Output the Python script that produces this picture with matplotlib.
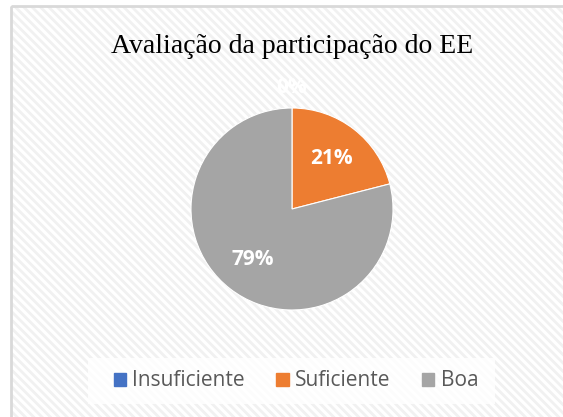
import numpy as np
import matplotlib.pyplot as plt
from matplotlib.patches import Rectangle

# Data
categories = ["Insuficiente", "Suficiente", "Boa"]
values = [0, 21, 79]
colors = ["#4472C4", "#ED7D31", "#A5A5A5"]
title = "Avaliação da participação do EE"

W, H = 563, 417
fig = plt.figure(figsize=(W / 100, H / 100), dpi=100)

# background: hatched chart area with a light border
plt.rcParams["hatch.linewidth"] = 2.0
bg = fig.add_axes([0, 0, 1, 1])
bg.set_xlim(0, W)
bg.set_ylim(H, 0)
bg.axis("off")
bg.add_patch(Rectangle((11, 6), 600, 500, facecolor="white", edgecolor="#f1f1f1",
                       lw=0, hatch="\\\\\\\\"))
bg.add_patch(Rectangle((11, 6), 600, 500, facecolor="none", edgecolor="#d9d9d9", lw=2))

bg.text(292, 46, title, ha="center", va="center", fontsize=20,
        family="Liberation Serif", color="black")

# pie
cx, cy, r = 292, 209, 101
ax = fig.add_axes([(cx - r) / W, (H - cy - r) / H, 2 * r / W, 2 * r / H])
wedges, texts, autotexts = ax.pie(values, colors=colors, startangle=90, counterclock=False,
                                  autopct="%1.0f%%", pctdistance=0.63,
                                  wedgeprops=dict(linewidth=0.8, edgecolor="white"),
                                  textprops=dict(color="white", fontsize=15,
                                                 fontweight="bold", family="Open Sans"))
ax.set_xlim(-1, 1)
ax.set_ylim(-1, 1)
ax.set_aspect("equal")
ax.axis("off")

# the 0% label sits outside the pie
w0 = wedges[0]
ang = np.deg2rad((w0.theta1 + w0.theta2) / 2)
autotexts[0].set_position((1.2 * np.cos(ang), 1.2 * np.sin(ang)))
autotexts[0].set_clip_on(False)

# legend box
bg.add_patch(Rectangle((88, 358), 407, 46, facecolor="white", edgecolor="none", alpha=0.8))
handles = [Rectangle((0, 0), 1, 1, color=c) for c in colors]
leg = fig.legend(handles, categories, loc="center", bbox_to_anchor=(296 / W, 1 - 381 / H),
                 ncol=3, frameon=False, handlelength=0.6, handleheight=0.6,
                 handletextpad=0.3, columnspacing=1.5,
                 prop=dict(family="Open Sans", size=15))
for t in leg.get_texts():
    t.set_color("#595959")

fig.savefig("out.png", dpi=100)
